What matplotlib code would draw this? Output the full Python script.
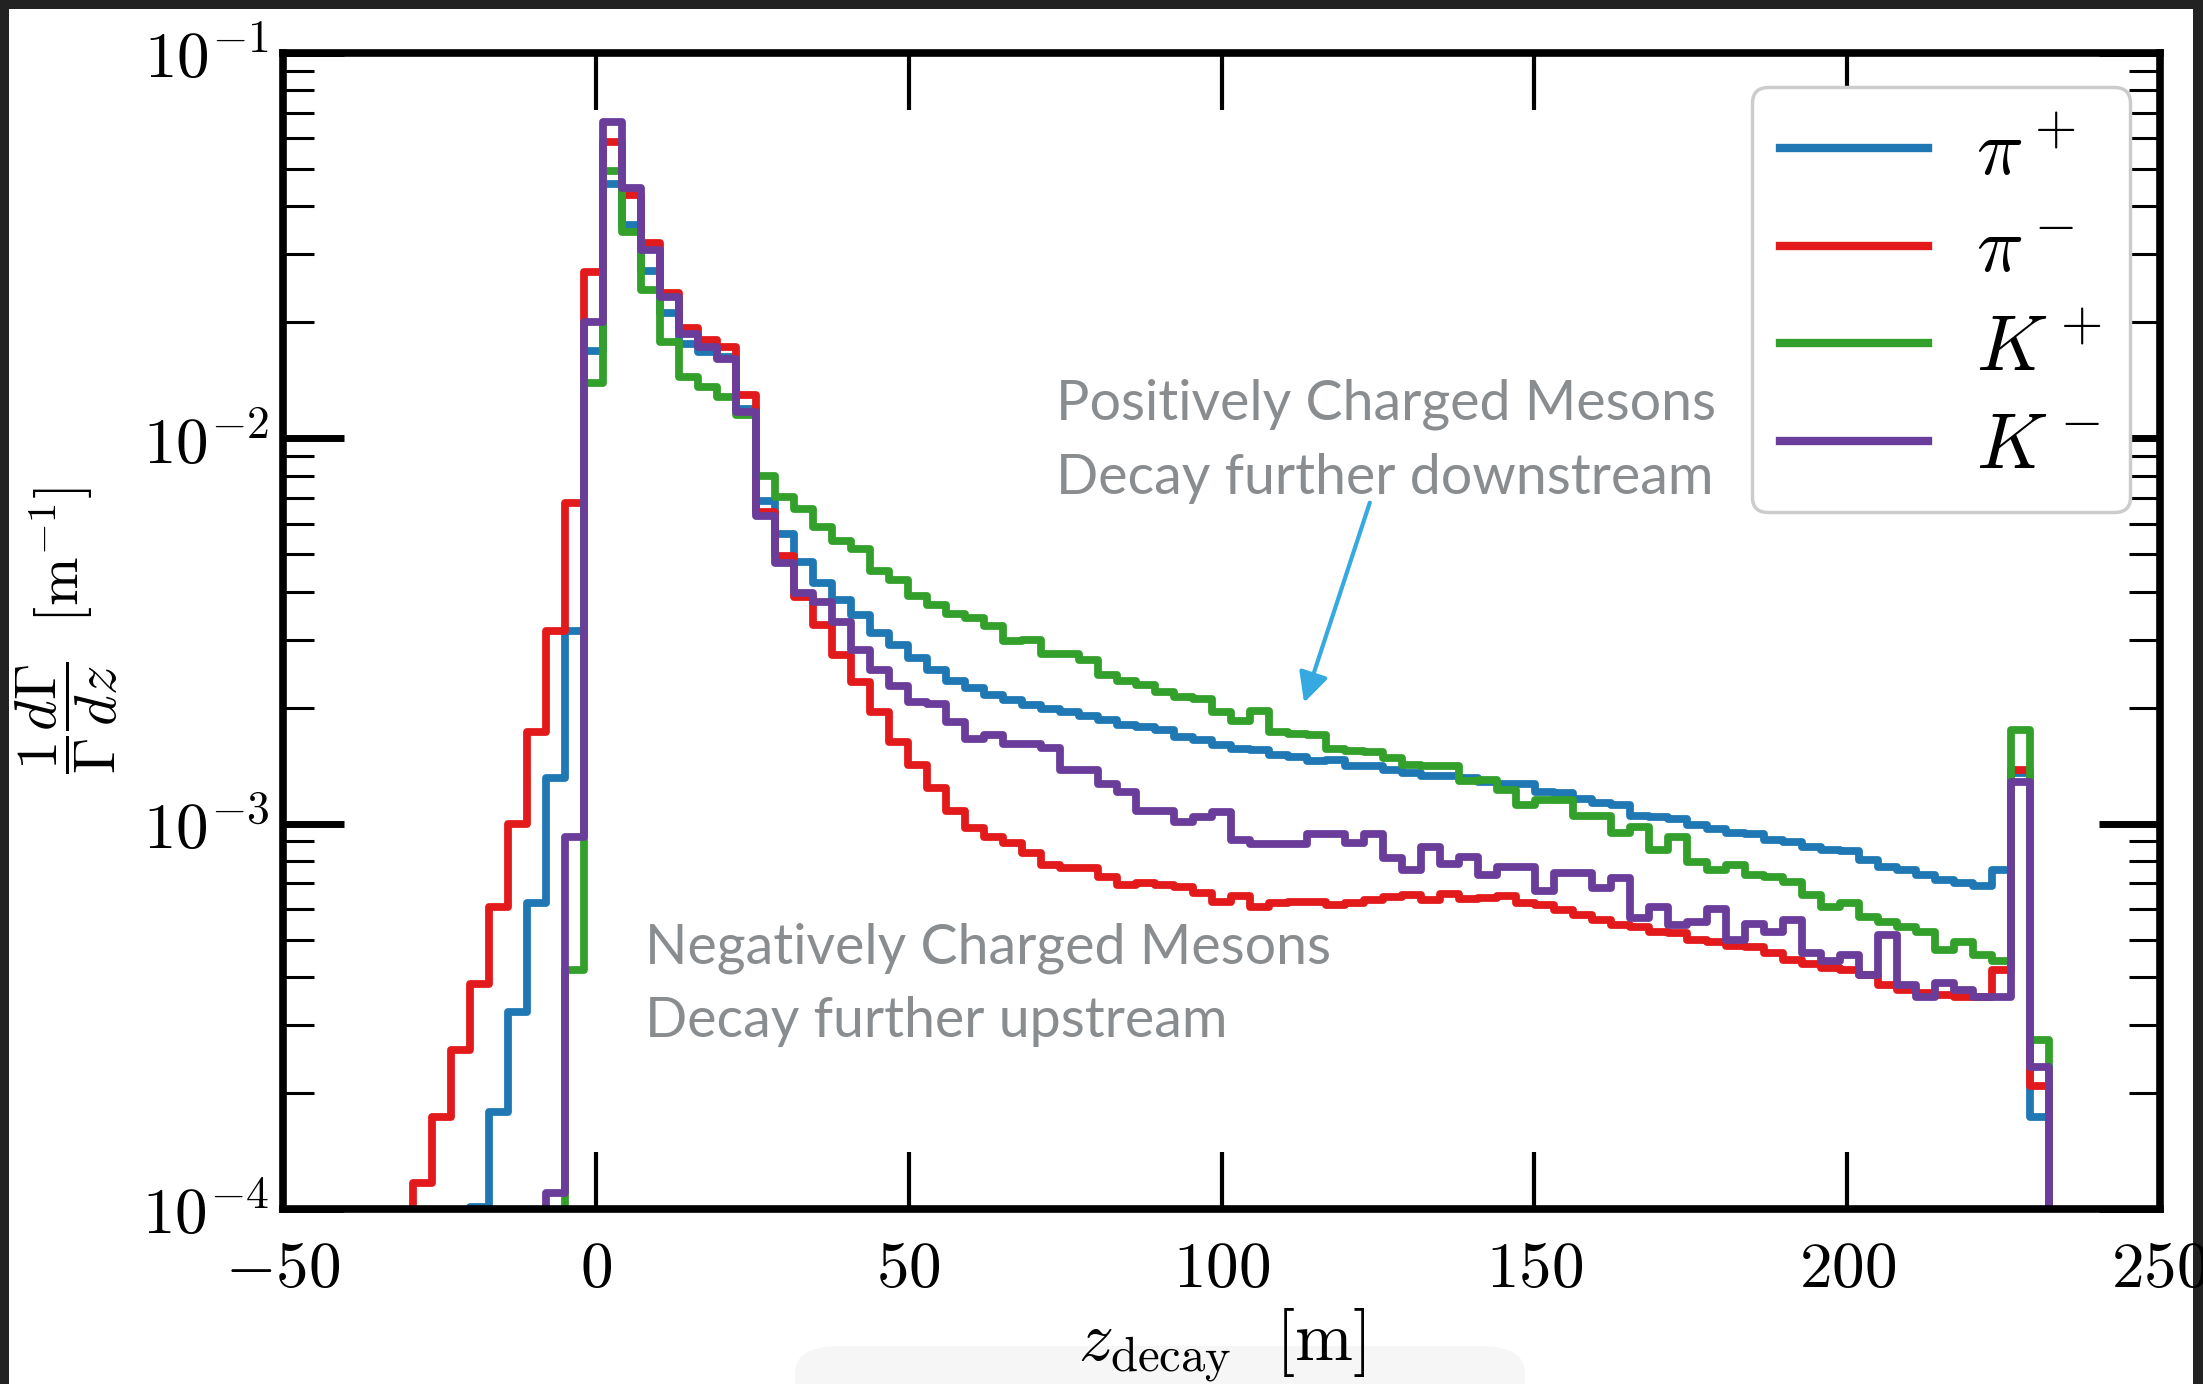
import numpy as np
import matplotlib
matplotlib.use("Agg")
import matplotlib.pyplot as plt
from matplotlib.lines import Line2D
from matplotlib.patches import Rectangle, FancyBboxPatch
from matplotlib.ticker import NullFormatter, LogLocator

# ---------------- data ----------------
bin_start = -29.2
bin_width = 3.04
n_bins = 86
edges = bin_start + bin_width * np.arange(n_bins + 1)

pi_plus = [0, 0, 0, 1.01e-4, 1.79e-4, 3.25e-4, 6.21e-4, 1.31e-3, 3.17e-3, 1.69e-2,
           4.57e-2, 3.58e-2, 2.72e-2, 2.11e-2, 1.76e-2, 1.68e-2, 1.63e-2, 1.19e-2, 6.87e-3, 5.65e-3,
           4.79e-3, 4.22e-3, 3.80e-3, 3.48e-3, 3.13e-3, 2.91e-3, 2.69e-3, 2.51e-3, 2.35e-3, 2.25e-3,
           2.16e-3, 2.10e-3, 2.03e-3, 1.99e-3, 1.95e-3, 1.90e-3, 1.86e-3, 1.80e-3, 1.78e-3, 1.75e-3,
           1.68e-3, 1.65e-3, 1.60e-3, 1.56e-3, 1.55e-3, 1.51e-3, 1.49e-3, 1.45e-3, 1.46e-3, 1.41e-3,
           1.41e-3, 1.38e-3, 1.35e-3, 1.33e-3, 1.33e-3, 1.31e-3, 1.28e-3, 1.27e-3, 1.27e-3, 1.21e-3,
           1.20e-3, 1.16e-3, 1.13e-3, 1.12e-3, 1.05e-3, 1.04e-3, 1.03e-3, 9.91e-4, 9.66e-4, 9.44e-4,
           9.40e-4, 9.09e-4, 8.95e-4, 8.69e-4, 8.56e-4, 8.47e-4, 8.06e-4, 7.71e-4, 7.59e-4, 7.36e-4,
           7.15e-4, 7.00e-4, 6.87e-4, 7.59e-4, 1.35e-3, 1.73e-4]

pi_minus = [1.17e-4, 1.73e-4, 2.58e-4, 3.84e-4, 6.08e-4, 1.00e-3, 1.73e-3, 3.17e-3, 6.78e-3, 2.70e-2,
            5.89e-2, 4.29e-2, 3.21e-2, 2.38e-2, 1.93e-2, 1.80e-2, 1.73e-2, 1.295e-2, 6.45e-3, 4.96e-3,
            3.88e-3, 3.28e-3, 2.74e-3, 2.33e-3, 1.95e-3, 1.63e-3, 1.42e-3, 1.24e-3, 1.08e-3, 9.72e-4,
            9.25e-4, 8.89e-4, 8.38e-4, 7.81e-4, 7.66e-4, 7.66e-4, 7.28e-4, 6.93e-4, 7.00e-4, 6.93e-4,
            6.86e-4, 6.59e-4, 6.27e-4, 6.50e-4, 6.08e-4, 6.21e-4, 6.27e-4, 6.27e-4, 6.15e-4, 6.21e-4,
            6.33e-4, 6.46e-4, 6.53e-4, 6.33e-4, 6.57e-4, 6.36e-4, 6.40e-4, 6.49e-4, 6.21e-4, 6.15e-4,
            5.97e-4, 5.79e-4, 5.62e-4, 5.45e-4, 5.40e-4, 5.24e-4, 5.19e-4, 4.99e-4, 4.93e-4, 4.81e-4,
            4.78e-4, 4.63e-4, 4.43e-4, 4.33e-4, 4.23e-4, 4.17e-4, 4.05e-4, 3.81e-4, 3.70e-4, 3.64e-4,
            3.59e-4, 3.56e-4, 3.54e-4, 4.17e-4, 1.38e-3, 2.09e-4]

k_plus = [0, 0, 0, 0, 0, 0, 0, 0, 4.17e-4, 1.39e-2,
          4.95e-2, 3.44e-2, 2.43e-2, 1.78e-2, 1.445e-2, 1.36e-2, 1.28e-2, 1.148e-2, 7.97e-3, 7.05e-3,
          6.57e-3, 5.87e-3, 5.42e-3, 5.15e-3, 4.53e-3, 4.30e-3, 3.90e-3, 3.69e-3, 3.50e-3, 3.41e-3,
          3.26e-3, 2.97e-3, 3.00e-3, 2.76e-3, 2.76e-3, 2.66e-3, 2.43e-3, 2.35e-3, 2.29e-3, 2.20e-3,
          2.13e-3, 2.11e-3, 1.95e-3, 1.85e-3, 1.96e-3, 1.73e-3, 1.71e-3, 1.70e-3, 1.56e-3, 1.54e-3,
          1.53e-3, 1.48e-3, 1.42e-3, 1.41e-3, 1.41e-3, 1.29e-3, 1.30e-3, 1.22e-3, 1.12e-3, 1.15e-3,
          1.15e-3, 1.05e-3, 1.05e-3, 9.44e-4, 9.82e-4, 8.54e-4, 9.25e-4, 7.96e-4, 7.56e-4, 7.81e-4,
          7.36e-4, 7.26e-4, 7.05e-4, 6.53e-4, 6.07e-4, 6.21e-4, 5.71e-4, 5.55e-4, 5.38e-4, 5.23e-4,
          4.70e-4, 4.92e-4, 4.56e-4, 4.39e-4, 1.75e-3, 2.74e-4]

k_minus = [0, 0, 0, 0, 0, 0, 0, 1.10e-4, 9.25e-4, 2.01e-2,
           6.64e-2, 4.46e-2, 3.08e-2, 2.33e-2, 1.87e-2, 1.73e-2, 1.61e-2, 1.17e-2, 6.27e-3, 4.74e-3,
           3.96e-3, 3.77e-3, 3.34e-3, 2.83e-3, 2.51e-3, 2.27e-3, 2.07e-3, 2.05e-3, 1.84e-3, 1.66e-3,
           1.70e-3, 1.61e-3, 1.61e-3, 1.57e-3, 1.38e-3, 1.38e-3, 1.27e-3, 1.21e-3, 1.08e-3, 1.08e-3,
           1.01e-3, 1.04e-3, 1.07e-3, 9.06e-4, 8.85e-4, 8.85e-4, 8.85e-4, 9.40e-4, 9.40e-4, 8.89e-4,
           9.40e-4, 8.13e-4, 7.60e-4, 8.68e-4, 7.88e-4, 8.20e-4, 7.36e-4, 7.73e-4, 7.73e-4, 6.68e-4,
           7.43e-4, 7.43e-4, 6.79e-4, 7.21e-4, 5.70e-4, 6.08e-4, 5.45e-4, 5.56e-4, 6.02e-4, 4.98e-4,
           5.50e-4, 5.23e-4, 5.62e-4, 4.63e-4, 4.39e-4, 4.56e-4, 4.05e-4, 5.14e-4, 3.81e-4, 3.54e-4,
           3.87e-4, 3.70e-4, 3.54e-4, 3.54e-4, 1.28e-3, 2.33e-4]

series_labels = [r"$\pi^+$", r"$\pi^-$", r"$K^+$", r"$K^-$"]
series_colors = ["#1f78b4", "#e31a1c", "#33a02c", "#6a3d9a"]

x_ticks = [-50, 0, 50, 100, 150, 200, 250]
x_ticklabels = [r"$-50$", r"$0$", r"$50$", r"$100$", r"$150$", r"$200$", r"$250$"]
y_ticks = [1e-4, 1e-3, 1e-2, 1e-1]
y_ticklabels = [r"$10^{-4}$", r"$10^{-3}$", r"$10^{-2}$", r"$10^{-1}$"]

# ---------------- figure ----------------
plt.rcParams["mathtext.fontset"] = "cm"
plt.rcParams["font.family"] = ["DejaVu Sans"]

W, H = 2203, 1384
fig = plt.figure(figsize=(W / 100, H / 100), dpi=100, facecolor="#222222")
fig.patches.append(Rectangle((9 / W, 0), (2193 - 9) / W, (H - 9) / H,
                             transform=fig.transFigure, facecolor="white",
                             edgecolor="none", zorder=-3))
fig.patches.append(FancyBboxPatch((795 / W, -0.05), (1525 - 795) / W, (0.05 + (H - 1346) / H),
                                  boxstyle="round,pad=0,rounding_size=0.02",
                                  transform=fig.transFigure, facecolor="#f6f6f6",
                                  edgecolor="none", zorder=-2))

ax = fig.add_axes([283 / W, 1 - 1209 / H, 1877 / W, 1156 / H])
ax.set_zorder(1)
ax.patch.set_facecolor("white")

floor = 1e-7
for vals, col in zip([pi_plus, pi_minus, k_plus, k_minus], series_colors):
    v = np.asarray(vals, dtype=float)
    v = np.where(v > 0, v, floor)
    ax.stairs(v, edges, baseline=floor, edgecolor=col, fill=False,
              linewidth=5.6, joinstyle="round")

ax.set_yscale("log")
ax.set_xlim(-50, 250)
ax.set_ylim(1e-4, 1e-1)

ax.set_xticks(x_ticks)
ax.set_xticklabels(x_ticklabels)
ax.set_yticks(y_ticks)
ax.set_yticklabels(y_ticklabels)
ax.yaxis.set_minor_locator(LogLocator(base=10, subs=np.arange(2, 10)))
ax.yaxis.set_minor_formatter(NullFormatter())

ax.tick_params(axis="x", which="major", direction="in", length=41, width=3,
               top=True, bottom=True, pad=20, labelsize=47)
ax.tick_params(axis="y", which="major", direction="in", length=44, width=5,
               left=True, right=True, pad=10, labelsize=47)
ax.tick_params(axis="y", which="minor", direction="in", length=22, width=2.2,
               left=True, right=True)
for s in ax.spines.values():
    s.set_linewidth(5.5)

ax.set_xlabel(r"$z_{\rm decay}\ \ [\mathrm{m}]$", fontsize=50)
ax.xaxis.set_label_coords(0.5, -0.085)
ax.set_ylabel(r"$\dfrac{1}{\Gamma}\dfrac{d\Gamma}{dz}\ \ [\mathrm{m}^{-1}]$", fontsize=42)
ax.yaxis.set_label_coords(-0.087, 0.5)

handles = [Line2D([], [], color=c, lw=6) for c in series_colors]
leg = ax.legend(handles, series_labels, loc="upper right", bbox_to_anchor=(0.984, 0.9706),
                borderaxespad=0, fontsize=56, handlelength=1.9, handletextpad=0.62,
                labelspacing=0.28, borderpad=0.36, frameon=True, fancybox=True,
                framealpha=1, edgecolor="#cccccc")
leg.get_frame().set_linewidth(2.5)

txt_color = "#8a8d8f"
ax.text(0.412, 0.664, "Positively Charged Mesons\nDecay further downstream",
        transform=ax.transAxes, ha="left", va="center", fontsize=40,
        family=["Lato", "DejaVu Sans"], color=txt_color, linespacing=1.55)
ax.text(0.193, 0.194, "Negatively Charged Mesons\nDecay further upstream",
        transform=ax.transAxes, ha="left", va="center", fontsize=40,
        family=["Lato", "DejaVu Sans"], color=txt_color, linespacing=1.55)
ax.annotate("", xy=(0.544, 0.438), xytext=(0.579, 0.611),
            xycoords="axes fraction", textcoords="axes fraction",
            arrowprops=dict(arrowstyle="-|>", color="#36a9e0", lw=3,
                            mutation_scale=45, shrinkA=0, shrinkB=0))

fig.savefig("out.png", dpi=100, facecolor=fig.get_facecolor())
